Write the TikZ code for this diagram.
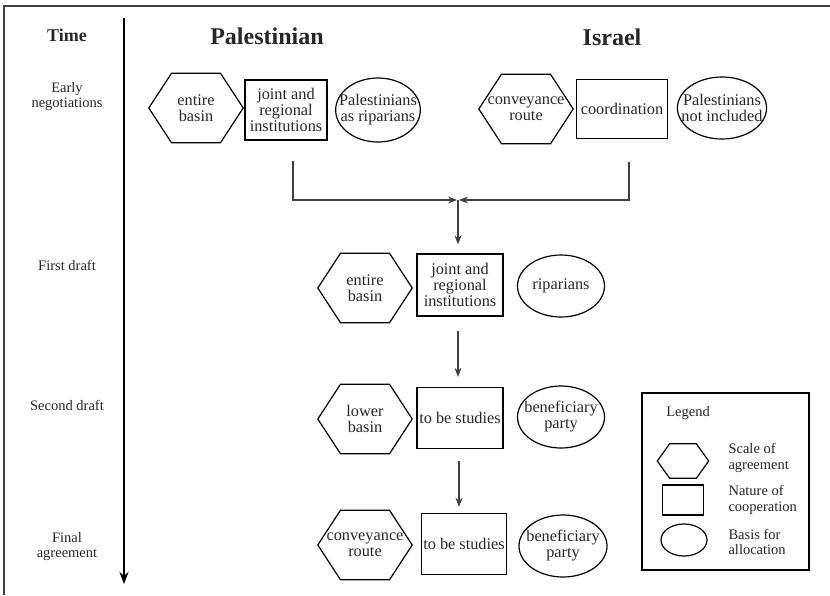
\documentclass[tikz,border=0pt]{standalone}
\usepackage{fontspec}
\setmainfont{Liberation Serif}
\usetikzlibrary{calc,shapes.geometric,arrows.meta}

% hexagon drawn round a named node
\newcommand\hexframe[1]{\draw[line width=1.2pt] (#1.west)
  -- ($(#1.north west)!.24!(#1.north east)$) -- ($(#1.north west)!.76!(#1.north east)$)
  -- (#1.east)
  -- ($(#1.south west)!.76!(#1.south east)$) -- ($(#1.south west)!.24!(#1.south east)$)
  -- cycle;}

\begin{document}
\begin{tikzpicture}[x=1pt, y=-1pt,
      every node/.style={align=center, text=black!85,
        font=\fontsize{16.3}{16}\selectfont},
      hexbox/.style={minimum width=94pt, minimum height=69pt, inner sep=0pt},
      recbox/.style={draw, line width=1.3pt, minimum width=86pt,
        minimum height=61pt, inner sep=1pt},
      ellbox/.style={draw, ellipse, line width=1.2pt, minimum width=87pt,
        minimum height=62pt, inner xsep=-9pt, inner ysep=0pt},
      timelbl/.style={font=\fontsize{14.5}{15}\selectfont},
      title/.style={font=\bfseries\fontsize{24}{26}\selectfont},
      legtext/.style={font=\fontsize{14.5}{15.5}\selectfont, anchor=west, align=left},
      link/.style={draw=black!75, line width=1.1pt, -{Stealth[length=9pt,width=7pt]}}]
    \useasboundingbox (0,0) rectangle (830,595);
    % frame
    \draw[black!75, line width=1.5pt] (4,595) -- (4,6) -- (830,6);

    % time axis
    \coordinate (t0) at (124,18);
    \coordinate (t1) at (124,584);
    \draw[line width=2pt, -{Stealth[length=12pt,width=9pt]}] (t0) -- (t1);
    \node[font=\bfseries\fontsize{18}{20}\selectfont] (time) at (67,35) {Time};
    \node[timelbl] (early) at (67,97) {Early\\negotiations};
    \node[timelbl] (first) at (67,265) {First draft};
    \node[timelbl] (second) at (67,405) {Second draft};
    \node[timelbl] (final) at (67,547) {Final\\agreement};

    % early negotiations
    \node[title] (pal) at (267,36) {Palestinian};
    \node[title] (isr) at (612,37) {Israel};
    \node[hexbox] (hPal) at (196,108) {entire\\basin};
    \node[recbox, minimum width=82pt, minimum height=60pt] (jPal) at (286,110)
      {joint and\\regional\\institutions};
    \node[ellbox, minimum width=84pt, minimum height=64pt] (ePal) at (378,110)
      {Palestinians\\as riparians};
    \node[hexbox] (hIsr) at (526,109) {conveyance\\route};
    \node[recbox, minimum width=91pt, minimum height=59pt] (cIsr) at (622,109)
      {coordination};
    \node[ellbox, minimum width=89pt] (eIsr) at (722,108)
      {Palestinians\\not included};

    % first draft
    \node[hexbox] (hOne) at (365,288) {entire\\basin};
    \node[recbox, minimum height=62pt] (jOne) at (460,285)
      {joint and\\regional\\institutions};
    \node[ellbox] (eOne) at (561,286) {riparians};

    % second draft
    \node[hexbox] (hTwo) at (365,419) {lower\\basin};
    \node[recbox] (sTwo) at (460,418) {to be studies};
    \node[ellbox] (eTwo) at (561,417) {beneficiary\\party};

    % final agreement
    \node[hexbox] (hFin) at (365,545) {conveyance\\route};
    \node[recbox, minimum width=85pt] (sFin) at (464,544) {to be studies};
    \node[ellbox, minimum width=88pt] (eFin) at (563,546) {beneficiary\\party};

    \foreach \h in {hPal,hIsr,hOne,hTwo,hFin} {\hexframe{\h}}

    % connectors
    \coordinate (meet) at (458,200);
    \draw[link, shorten <=20pt] ([xshift=7pt]jPal.south) |- ([xshift=-1pt]meet);
    \draw[link, shorten <=23pt] ([xshift=7pt]cIsr.south) |- ([xshift=1pt]meet);
    \draw[link, shorten >=9pt] (meet) -- (meet |- jOne.north);
    \draw[link, shorten <=14pt, shorten >=10pt] ([xshift=-2pt]jOne.south)
      -- ([xshift=-2pt]sTwo.north);
    \draw[link, shorten <=12pt, shorten >=6pt] ([xshift=-1pt]sTwo.south)
      -- ([xshift=-1pt]sTwo.south |- sFin.north);

    % legend
    \node[draw, line width=1.3pt, minimum width=167pt, minimum height=177pt]
      (legend) at (725.5,481.5) {};
    \node[timelbl] (legtitle) at (688,413) {Legend};
    \node[hexbox, minimum width=51pt, minimum height=34pt] (hLeg) at (683,461) {};
    \hexframe{hLeg}
    \node[recbox, minimum width=41pt, minimum height=30pt] (rLeg) at (683,500) {};
    \node[ellbox, minimum width=46pt, minimum height=32pt] (eLeg) at (684,540) {};
    \node[legtext] (scale) at (725,458) {Scale of\\agreement};
    \node[legtext] (nature) at (725,500) {Nature of\\cooperation};
    \node[legtext] (basis) at (725,542) {Basis for\\allocation};
\end{tikzpicture}
\end{document}
